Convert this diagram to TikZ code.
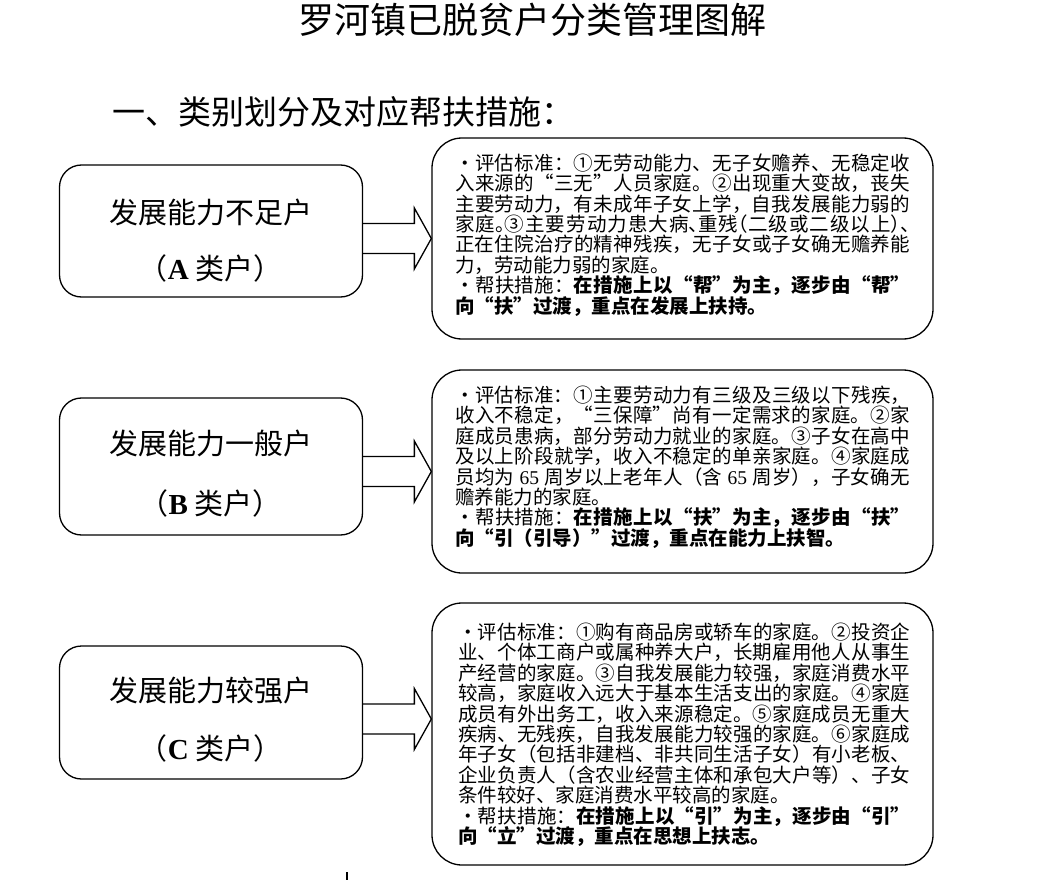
\documentclass[tikz,border=0pt]{standalone}
\usepackage{fontspec}
\setmainfont{Noto Sans CJK SC}
\newfontfamily\latf{Liberation Serif}
\usetikzlibrary{calc}
\XeTeXlinebreaklocale "zh"
\XeTeXlinebreakskip=0pt plus 2pt
\newcommand\hpl[1]{\makebox[0.5em][r]{#1}}
\newcommand\hpr[1]{\makebox[0.5em][l]{#1}}
\newcommand\blockarrow[2]{%
  \draw[blk] let \p1=(#2), \p2=(#1.east) in
    (\x2,\y1+15pt) -- (\x1-17pt,\y1+15pt) -- (\x1-17pt,\y1+30.5pt) -- (\x1,\y1)
    -- (\x1-17pt,\y1-30.5pt) -- (\x1-17pt,\y1-15pt) -- (\x2,\y1-15pt);}
\tikzset{
  lbox/.style={draw, line width=1.3pt, rounded corners=22pt, minimum width=303pt, inner sep=0pt},
  rbox/.style={draw, line width=1.3pt, rounded corners=30pt, minimum width=501pt, inner sep=0pt},
  blk/.style={draw, line width=1.3pt, line join=miter},
  ltxt/.style={font=\fontsize{29pt}{29pt}\selectfont, anchor=base, inner sep=0pt},
  rtxt/.style={anchor=base west, inner sep=0pt, font=\fontsize{19.5pt}{20.4pt}\selectfont},
}
\begin{document}
\begin{tikzpicture}[x=1pt,y=-1pt]
\useasboundingbox (0,0) rectangle (1045,880);

\node[anchor=base, inner sep=0pt, font=\fontsize{36pt}{36pt}\selectfont] (title) at (532,34) {罗河镇已脱贫户分类管理图解};
\node[anchor=base west, inner sep=0pt, font=\fontsize{33pt}{33pt}\selectfont] (head) at (112,125) {一、类别划分及对应帮扶措施：};

% left boxes
\node[lbox, minimum height=132pt] (la) at (211,231) {};
\node[lbox, minimum height=137pt] (lb) at (211,466.5) {};
\node[lbox, minimum height=133pt] (lc) at (211,712.5) {};

\node[ltxt] (la1) at (210.5,224) {发展能力不足户};
\node[ltxt] (la2) at (210.5,279) {（{\latf\bfseries A} 类户）};
\node[ltxt] (lb1) at (210.5,454) {发展能力一般户};
\node[ltxt] (lb2) at (210.5,514) {（{\latf\bfseries B} 类户）};
\node[ltxt] (lc1) at (210.5,701) {发展能力较强户};
\node[ltxt] (lc2) at (210.5,759) {（{\latf\bfseries C} 类户）};

% right boxes
\node[rbox, minimum height=201pt] (ra) at (682.5,238.5) {};
\node[rbox, minimum height=203pt] (rb) at (682.5,471.5) {};
\node[rbox, minimum height=262pt] (rc) at (682.5,734) {};

\coordinate (tipa) at (ra.west);
\coordinate (tipb) at (rb.west);
\coordinate (tipc) at ($(rc.west)+(0,-15)$);
\blockarrow{la}{tipa}
\blockarrow{lb}{tipb}
\blockarrow{lc}{tipc}

\node[rtxt] (ta) at (455,170.4) {\parbox[t]{455pt}{%
•评估标准：①无劳动能力、无子女赡养、无稳定收\linebreak
入来源的“三无”人员家庭。②出现重大变故，丧失\linebreak
主要劳动力，有未成年子女上学，自我发展能力弱的\linebreak
家庭\hpr{。}③主要劳动力患大病\hpr{、}重残\hpl{（}二级或二级以上\hpr{）}\hpr{、}\linebreak
正在住院治疗的精神残疾，无子女或子女确无赡养能\linebreak
力，劳动能力弱的家庭。\par
•帮扶措施：\textbf{在措施上以“帮”为主，逐步由“帮”}\linebreak
\textbf{向“扶”过渡，重点在发展上扶持。}}};

\node[rtxt] (tb) at (455,402.4) {\parbox[t]{455pt}{%
•评估标准：①主要劳动力有三级及三级以下残疾，\linebreak
收入不稳定，“三保障”尚有一定需求的家庭。②家\linebreak
庭成员患病，部分劳动力就业的家庭。③子女在高中\linebreak
及以上阶段就学，收入不稳定的单亲家庭。④家庭成\linebreak
员均为{\latf\ 65 }周岁以上老年人（含{\latf\ 65 }周岁），子女确无\linebreak
赡养能力的家庭。\par
•帮扶措施：\textbf{在措施上以“扶”为主，逐步由“扶”}\linebreak
\textbf{向“引（引导）”过渡，重点在能力上扶智。}}};

\node[rtxt] (tc) at (458,639.4) {\parbox[t]{452pt}{%
•评估标准：①购有商品房或轿车的家庭。②投资企\linebreak
业、个体工商户或属种养大户，长期雇用他人从事生\linebreak
产经营的家庭。③自我发展能力较强，家庭消费水平\linebreak
较高，家庭收入远大于基本生活支出的家庭。④家庭\linebreak
成员有外出务工，收入来源稳定。⑤家庭成员无重大\linebreak
疾病、无残疾，自我发展能力较强的家庭。⑥家庭成\linebreak
年子女（包括非建档、非共同生活子女）有小老板、\linebreak
企业负责人（含农业经营主体和承包大户等）、子女\linebreak
条件较好、家庭消费水平较高的家庭。\par
•帮扶措施：\textbf{在措施上以“引”为主，逐步由“引”}\linebreak
\textbf{向“立”过渡，重点在思想上扶志。}}};

\draw[line width=2pt] (347,872) -- (347,880);
\end{tikzpicture}
\end{document}
